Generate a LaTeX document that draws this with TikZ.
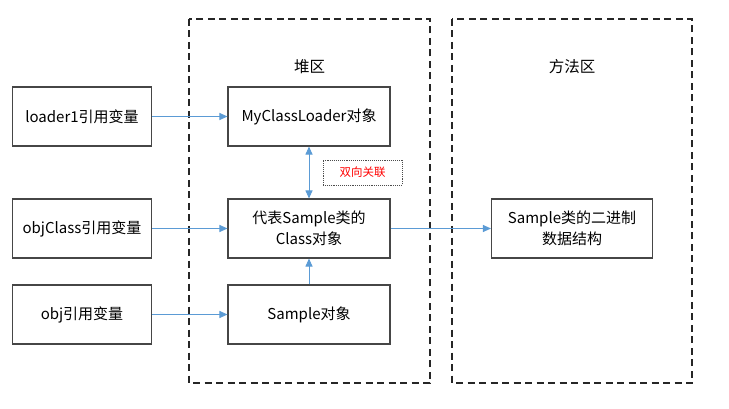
\documentclass[tikz,border=0pt]{standalone}
\usepackage{fontspec}
\setmainfont{Noto Sans CJK SC}
\usetikzlibrary{arrows.meta}
\definecolor{arrowblue}{RGB}{91,155,213}
\definecolor{boxgray}{RGB}{70,70,70}
\tikzset{
  box/.style={draw=boxgray, line width=1.1pt, minimum width=162pt, minimum height=59pt, align=center, font=\fontsize{15}{21}\selectfont, inner sep=0pt},
  lbox/.style={box, minimum width=139pt},
  area/.style={draw=black!85, line width=1.3pt, dash pattern=on 7pt off 4.5pt},
  conn/.style={draw=arrowblue, line width=1pt, -{Triangle[length=8pt,width=7pt]}},
  title/.style={font=\fontsize{15.5}{18}\selectfont}
}
\begin{document}
\begin{tikzpicture}[x=1pt,y=-1pt]
\useasboundingbox (0,0) rectangle (729,409);
\draw[area] (189,19) rectangle (430,383);
\draw[area] (452,19) rectangle (692,383);
\node[title] (heap) at (309.5,67) {堆区};
\node[title] (method) at (572,67) {方法区};
\node[lbox] (l1) at (82,116.5) {loader1引用变量};
\node[lbox] (l2) at (82,228.5) {objClass引用变量};
\node[lbox] (l3) at (82,314.5) {obj引用变量};
\node[box] (m1) at (309,116.5) {MyClassLoader对象};
\node[box] (m2) at (309,228.5) {代表Sample类的\\Class对象};
\node[box] (m3) at (309,314.5) {Sample对象};
\node[box, minimum width=161pt] (r1) at (572,228.5) {Sample类的二进制\\数据结构};
\draw[conn] (l1) -- (m1);
\draw[conn] (l2) -- (m2);
\draw[conn] (l3) -- (m3);
\draw[conn] (m2) -- (r1);
\draw[conn] (m3) -- (m2);
\draw[conn, {Triangle[length=8pt,width=7pt]}-{Triangle[length=8pt,width=7pt]}] (m1) -- (m2);
\node[draw=black!70, densely dotted, line width=0.9pt, minimum width=79pt, minimum height=25pt, text=red, font=\fontsize{11.5}{13}\selectfont, inner sep=0pt] (assoc) at (362.5,172.5) {双向关联};
\end{tikzpicture}
\end{document}
